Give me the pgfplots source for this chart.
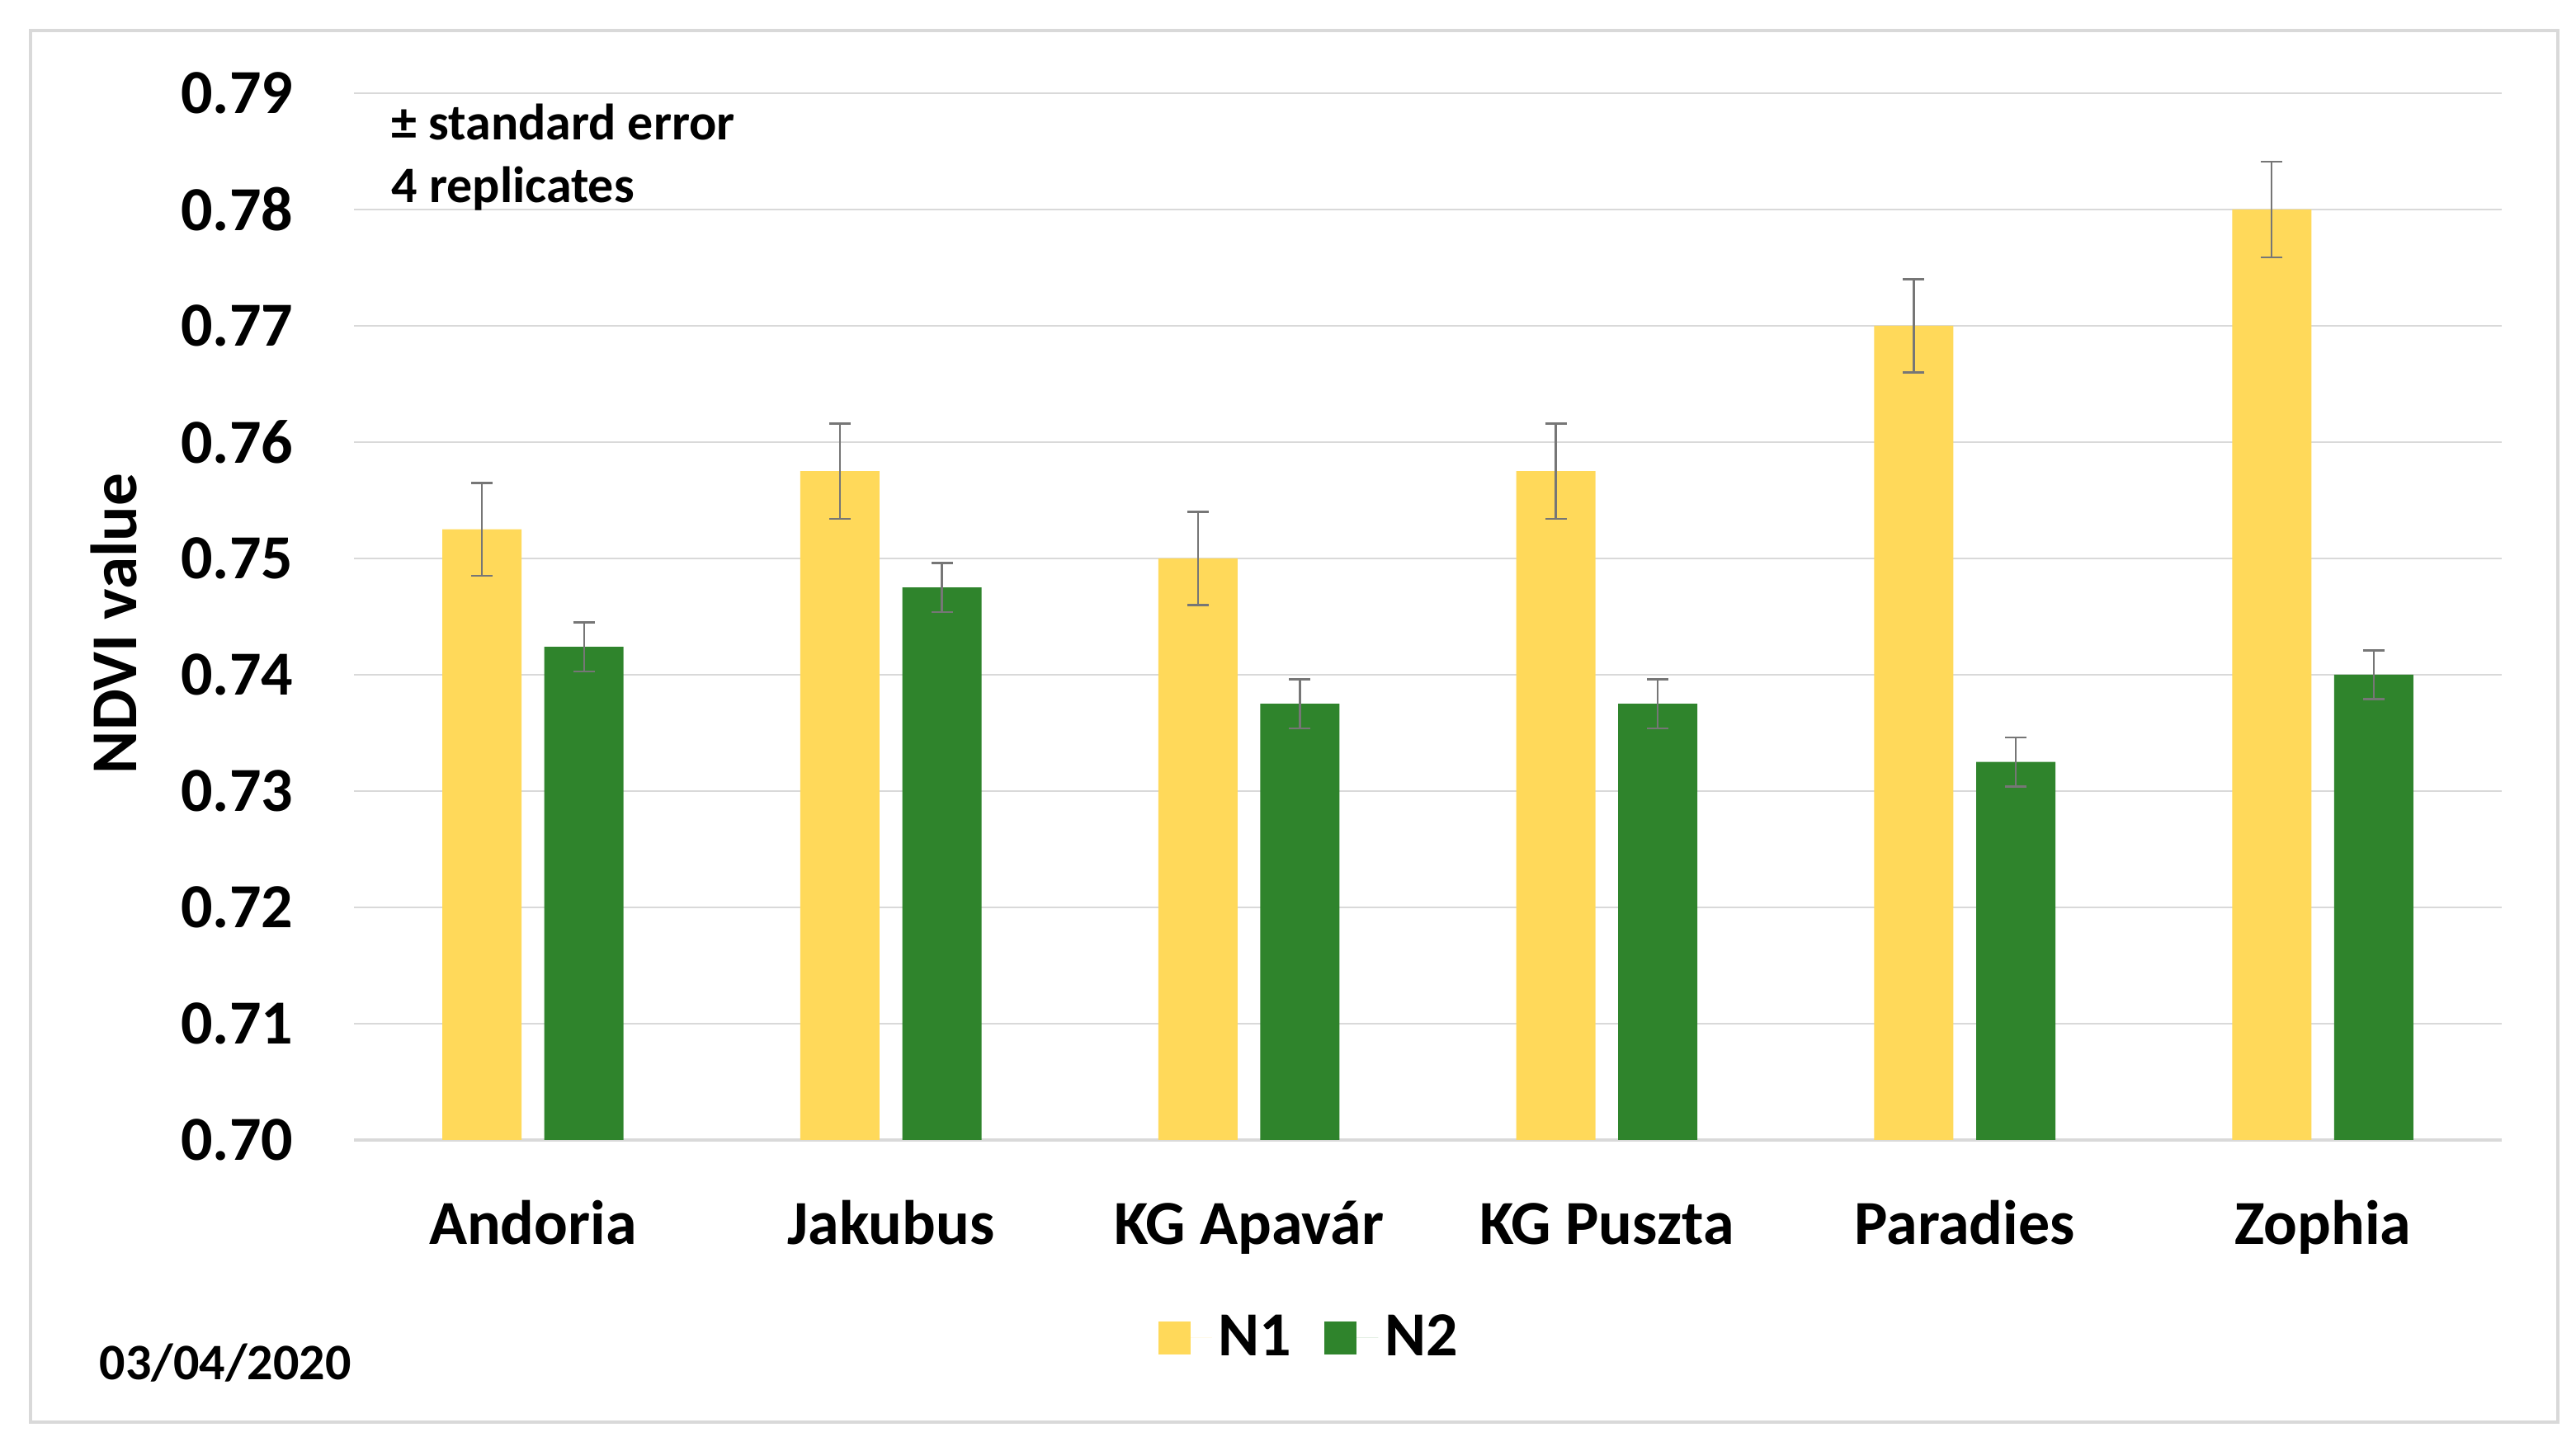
\documentclass[border=0pt]{standalone}
\usepackage{fontspec}
\setmainfont{Carlito}
\usepackage{pgfplots}
\usepackage{pgfplotstable}
\pgfplotsset{compat=1.18}

\definecolor{nyellow}{RGB}{255,217,90}
\definecolor{ngreen}{RGB}{47,132,44}
\definecolor{errgray}{RGB}{118,118,118}
\definecolor{gridgray}{RGB}{217,217,217}

% cultivar  N1 mean, N1 se, N2 mean, N2 se
\pgfplotstableread{
x  n1      e1     n2      e2
0  0.7525  0.0040 0.7424  0.0021
1  0.7575  0.0041 0.7475  0.0021
2  0.7500  0.0040 0.7375  0.0021
3  0.7575  0.0041 0.7375  0.0021
4  0.7700  0.0040 0.7325  0.0021
5  0.7800  0.0041 0.7400  0.0021
}\ndvi

\begin{document}
\begin{tikzpicture}
\path[use as bounding box] (0,0) rectangle (780.5bp,439.75bp);
\draw[gridgray, line width=0.8bp] (9.25bp,8.75bp) rectangle (775bp,430.5bp);

\begin{axis}[
  at={(107.25bp,94.25bp)}, anchor=south west,
  scale only axis, width=650.75bp, height=317.25bp,
  ybar=6.9bp, bar width=24bp,
  xmin=-0.5, xmax=5.5, ymin=0.70, ymax=0.79,
  xtick=data,
  xticklabels={Andoria, Jakubus, KG Apavár, KG Puszta, Paradies, Zophia},
  ytick={0.70,0.71,0.72,0.73,0.74,0.75,0.76,0.77,0.78,0.79},
  yticklabels={0.70,0.71,0.72,0.73,0.74,0.75,0.76,0.77,0.78,0.79},
  major tick length=0pt,
  axis x line*=bottom, axis y line*=left,
  x axis line style={gridgray, line width=0.8bp, -},
  y axis line style={draw=none},
  ymajorgrids, grid style={gridgray, line width=0.6bp},
  xticklabel style={font=\fontsize{19bp}{22bp}\selectfont\bfseries, anchor=base, inner sep=0pt, yshift=-31.5bp},
  yticklabel style={font=\fontsize{19bp}{22bp}\selectfont\bfseries, anchor=east, inner sep=0pt, xshift=-18.25bp},
  legend columns=2,
  legend style={at={(0.3742,-0.189)}, anchor=west, draw=none, fill=none, inner sep=0pt,
    font=\fontsize{19bp}{22bp}\selectfont\bfseries,
    /tikz/every even column/.append style={column sep=8bp}},
  legend image code/.code={\fill[#1] (0bp,-5bp) rectangle (9.75bp,5bp);
    \path (0bp,0bp) -- (16.25bp,0bp);},
  error bars/y dir=both, error bars/y explicit,
  error bars/error bar style={errgray, line width=0.6bp},
  error bars/error mark options={errgray, rotate=90, mark size=3.25bp, line width=0.6bp},
]
\addplot[fill=nyellow, draw=none] table[x=x, y=n1, y error=e1] {\ndvi};
\addplot[fill=ngreen, draw=none] table[x=x, y=n2, y error=e2] {\ndvi};
\legend{N1, N2}
\end{axis}

\node[rotate=90, font=\fontsize{19.8bp}{22bp}\selectfont\bfseries] at (34.5bp,250.75bp) {NDVI value};
\node[anchor=base west, inner sep=0pt, font=\fontsize{15.5bp}{18bp}\selectfont\bfseries] at (118.5bp,397.25bp) {± standard error};
\node[anchor=base west, inner sep=0pt, font=\fontsize{15.5bp}{18bp}\selectfont\bfseries] at (118.5bp,378.25bp) {4 replicates};
\node[anchor=base west, inner sep=0pt, font=\fontsize{15.5bp}{18bp}\selectfont\bfseries] at (30bp,21.75bp) {03/04/2020};
\end{tikzpicture}
\end{document}
